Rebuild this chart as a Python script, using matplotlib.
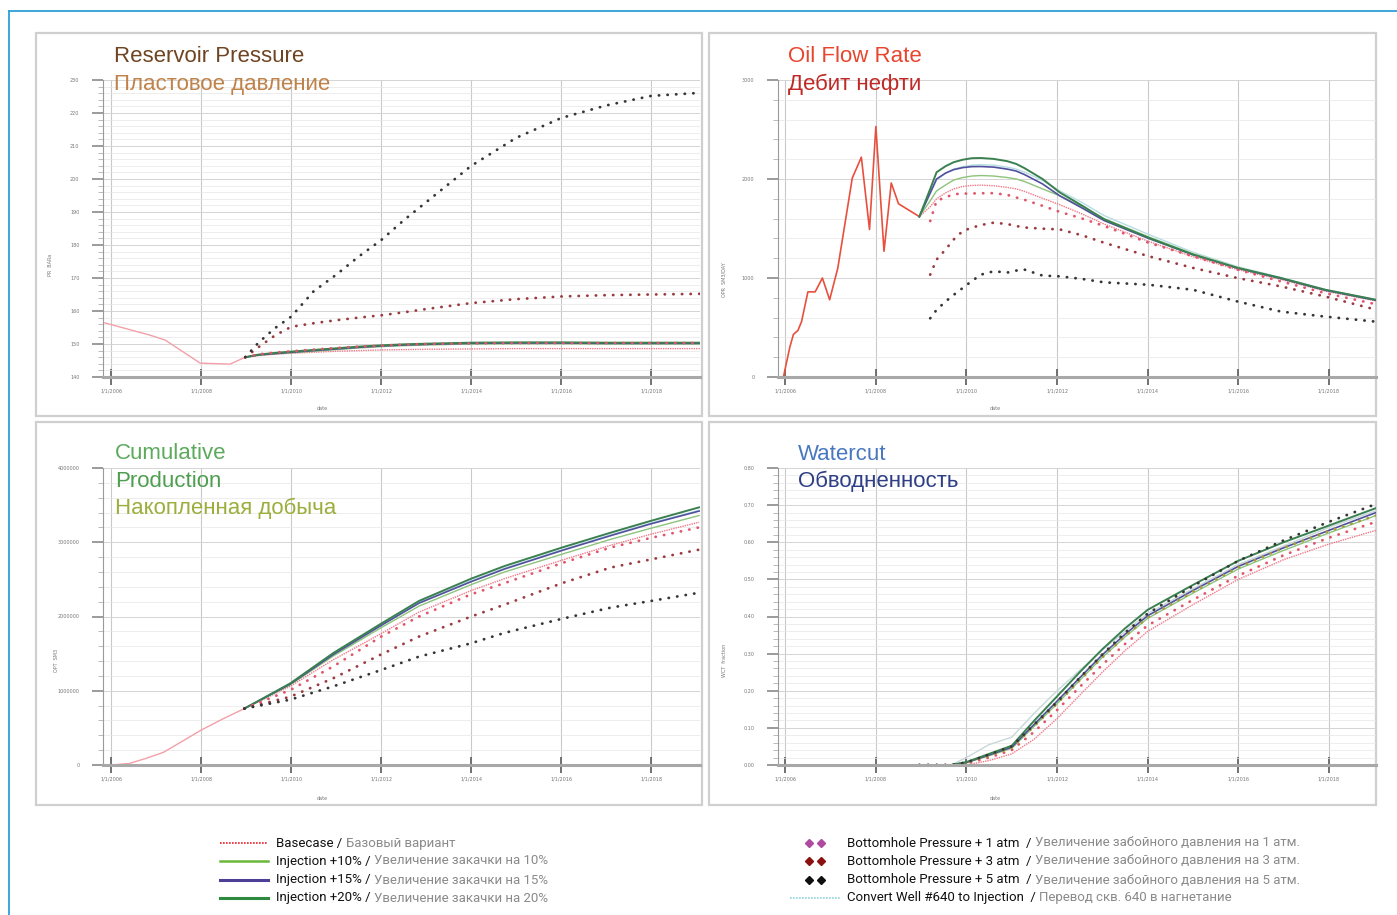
import matplotlib
matplotlib.use('Agg')
import matplotlib.pyplot as plt
from matplotlib.patches import Rectangle
from matplotlib.lines import Line2D
from matplotlib.ticker import MultipleLocator, FixedLocator

# ---------------- data ----------------
date_ticks = [0, 1, 2, 3, 4, 5, 6]
date_labels = ['1/1/2006', '1/1/2008', '1/1/2010', '1/1/2012', '1/1/2014', '1/1/2016', '1/1/2018']

# Reservoir pressure
p_hist_t = [-0.07, 0.43, 0.60, 0.99, 1.32, 1.49]
p_hist = [156.4, 152.7, 151.2, 144.2, 143.9, 146.0]
p_t = [1.49, 1.64, 1.82, 2.0, 2.25, 2.5, 2.75, 3.0, 3.25, 3.5, 4.0, 4.5, 5.0, 5.5, 6.0, 6.54]
p_base = [146.0, 146.5, 146.9, 147.2, 147.5, 147.8, 148.0, 148.2, 148.3, 148.4, 148.5, 148.6, 148.6, 148.6, 148.6, 148.6]
p_inj10 = [146.0, 146.6, 147.0, 147.3, 147.8, 148.3, 148.8, 149.2, 149.5, 149.7, 150.0, 150.1, 150.1, 150.0, 150.0, 150.0]
p_inj15 = [146.0, 146.7, 147.1, 147.5, 148.0, 148.5, 149.0, 149.4, 149.7, 149.9, 150.2, 150.3, 150.3, 150.2, 150.2, 150.2]
p_inj20 = [146.0, 146.8, 147.3, 147.7, 148.2, 148.7, 149.2, 149.6, 149.9, 150.1, 150.4, 150.5, 150.5, 150.4, 150.4, 150.4]
p_bhp1 = [146.0, 146.9, 147.4, 147.8, 148.3, 148.8, 149.2, 149.5, 149.8, 150.0, 150.2, 150.3, 150.3, 150.3, 150.3, 150.3]
p_bhp3 = [146.0, 149.1, 152.6, 155.2, 156.3, 157.2, 158.0, 158.7, 159.6, 160.6, 162.4, 163.6, 164.4, 164.8, 165.0, 165.2]
p_bhp5 = [146.0, 150.5, 154.8, 158.3, 166.0, 171.0, 176.5, 181.5, 187.5, 193.0, 204.0, 212.5, 218.5, 222.3, 225.2, 226.1]
p_conv = [146.0, 146.7, 147.2, 147.6, 148.1, 148.6, 149.0, 149.4, 149.7, 149.9, 150.1, 150.2, 150.2, 150.1, 150.1, 150.1]

# Oil flow rate
q_hist_t = [-0.02, 0.05, 0.09, 0.14, 0.18, 0.25, 0.33, 0.41, 0.49, 0.58, 0.74, 0.84, 0.93, 1.00, 1.09, 1.17, 1.25, 1.48]
q_hist = [0, 300, 430, 470, 560, 860, 860, 1000, 780, 1100, 2010, 2220, 1490, 2530, 1270, 1960, 1750, 1620]
q_t = [1.48, 1.60, 1.67, 1.77, 1.86, 1.96, 2.06, 2.16, 2.30, 2.45, 2.55, 2.64, 2.84, 3.03, 3.28, 3.52, 4.01, 4.50, 4.99, 5.47, 5.96, 6.52]
q_inj20 = [1620, 1900, 2068, 2130, 2170, 2195, 2210, 2212, 2203, 2180, 2152, 2110, 2000, 1864, 1729, 1593, 1407, 1237, 1102, 1000, 881, 780]
q_inj15 = [1620, 1860, 2000, 2060, 2095, 2115, 2125, 2126, 2120, 2100, 2080, 2045, 1950, 1830, 1705, 1580, 1400, 1235, 1100, 995, 876, 775]
q_inj10 = [1620, 1780, 1880, 1940, 1990, 2015, 2030, 2035, 2030, 2015, 2000, 1975, 1900, 1830, 1720, 1600, 1415, 1245, 1108, 1000, 880, 778]
q_base = [1620, 1720, 1800, 1860, 1900, 1925, 1935, 1938, 1932, 1915, 1900, 1875, 1805, 1740, 1645, 1545, 1370, 1215, 1085, 985, 868, 768]
q_conv = [1620, 1850, 1990, 2060, 2100, 2125, 2140, 2145, 2140, 2120, 2100, 2070, 1985, 1880, 1760, 1630, 1440, 1260, 1115, 1005, 885, 782]
q_bhp1 = [1576, 1780, 1815, 1847, 1852, 1854, 1856, 1857, 1840, 1813, 1790, 1729, 1668, 1600, 1525, 1356, 1220, 1085, 966, 847, 735]
q_bhp3 = [1034, 1186, 1288, 1390, 1475, 1508, 1535, 1559, 1545, 1525, 1510, 1498, 1491, 1430, 1356, 1220, 1102, 1000, 915, 813, 680]
q_bhp5 = [593, 678, 763, 830, 900, 970, 1034, 1068, 1055, 1075, 1085, 1024, 1017, 990, 956, 932, 881, 763, 661, 610, 559]

# Cumulative production (millions)
c_hist_t = [-0.06, 0.0, 0.2, 0.39, 0.58, 0.82, 1.0, 1.24, 1.48]
c_hist = [0.0, 0.0, 0.02, 0.09, 0.17, 0.34, 0.47, 0.62, 0.76]
c_t = [1.48, 1.99, 2.47, 3.0, 3.42, 4.0, 4.37, 5.01, 5.55, 6.0, 6.53]
c_inj20 = [0.76, 1.10, 1.51, 1.905, 2.21, 2.51, 2.68, 2.93, 3.13, 3.29, 3.47]
c_inj15 = [0.76, 1.09, 1.49, 1.88, 2.18, 2.47, 2.64, 2.89, 3.09, 3.25, 3.42]
c_inj10 = [0.76, 1.08, 1.47, 1.85, 2.14, 2.43, 2.60, 2.84, 3.04, 3.19, 3.36]
c_base = [0.76, 1.06, 1.42, 1.77, 2.06, 2.35, 2.51, 2.76, 2.96, 3.11, 3.27]
c_conv = [0.76, 1.09, 1.50, 1.89, 2.19, 2.48, 2.65, 2.90, 3.10, 3.26, 3.43]
c_bhp1 = [0.76, 1.01, 1.33, 1.73, 2.00, 2.30, 2.45, 2.72, 2.93, 3.06, 3.20]
c_bhp3 = [0.76, 0.92, 1.17, 1.49, 1.73, 2.00, 2.16, 2.45, 2.66, 2.77, 2.90]
c_bhp5 = [0.76, 0.88, 1.06, 1.28, 1.46, 1.64, 1.78, 1.97, 2.12, 2.21, 2.32]

# Watercut
w_hist_t = [-0.05, 1.48]
w_hist = [0.0, 0.0]
w_t = [1.48, 1.83, 2.0, 2.25, 2.5, 2.75, 3.0, 3.25, 3.5, 3.75, 4.0, 4.5, 5.0, 5.5, 6.0, 6.52]
w_inj20 = [0, 0, 0.008, 0.03, 0.052, 0.12, 0.185, 0.25, 0.312, 0.368, 0.418, 0.485, 0.55, 0.60, 0.645, 0.692]
w_inj15 = [0, 0, 0.007, 0.027, 0.048, 0.11, 0.172, 0.235, 0.297, 0.352, 0.402, 0.47, 0.535, 0.585, 0.632, 0.68]
w_inj10 = [0, 0, 0.006, 0.025, 0.045, 0.105, 0.165, 0.228, 0.29, 0.345, 0.395, 0.463, 0.528, 0.578, 0.625, 0.672]
w_base = [0, 0, 0.0, 0.012, 0.03, 0.07, 0.125, 0.188, 0.25, 0.308, 0.36, 0.432, 0.50, 0.553, 0.595, 0.632]
w_bhp1 = [0, 0, 0.004, 0.02, 0.04, 0.09, 0.148, 0.21, 0.27, 0.326, 0.376, 0.445, 0.51, 0.565, 0.612, 0.655]
w_bhp3 = [0, 0, 0.006, 0.025, 0.047, 0.105, 0.165, 0.228, 0.29, 0.347, 0.397, 0.467, 0.532, 0.585, 0.63, 0.672]
w_bhp5 = [0, 0, 0.007, 0.028, 0.05, 0.11, 0.17, 0.235, 0.298, 0.356, 0.408, 0.482, 0.55, 0.605, 0.655, 0.703]
w_conv = [0, 0, 0.02, 0.055, 0.075, 0.14, 0.20, 0.255, 0.31, 0.36, 0.408, 0.475, 0.54, 0.59, 0.64, 0.685]

legend_left = [
    ('Basecase / ', 'Базовый вариант'),
    ('Injection +10% / ', 'Увеличение закачки на 10%'),
    ('Injection +15% / ', 'Увеличение закачки на 15%'),
    ('Injection +20% / ', 'Увеличение закачки на 20%'),
]
legend_right = [
    ('Bottomhole Pressure + 1 atm  / ', 'Увеличение забойного давления на 1 атм.'),
    ('Bottomhole Pressure + 3 atm  / ', 'Увеличение забойного давления на 3 атм.'),
    ('Bottomhole Pressure + 5 atm  / ', 'Увеличение забойного давления на 5 атм.'),
    ('Convert Well #640 to Injection  / ', 'Перевод скв. 640 в нагнетание'),
]

# ---------------- styles ----------------
C_INJ10 = '#8cc47a'
C_INJ15 = '#50509e'
C_INJ20 = '#3a8050'
C_BASE = '#f07a8a'
C_CONV = '#b5dde2'
C_BHP1 = '#e0566a'
C_BHP3 = '#9b3a40'
C_BHP5 = '#353535'
DOT = dict(lw=2.0, ls=(0, (0.1, 3.0)), dash_capstyle='round')

W, H = 1397, 915
fig = plt.figure(figsize=(W / 100, H / 100), dpi=100)
fig.patch.set_facecolor('white')


def fx(x):
    return x / W


def fy(y):
    return 1 - y / H


fig.add_artist(Line2D([fx(8.5), fx(1397)], [fy(10.5), fy(10.5)], color='#2e9fd6', lw=1.3))
fig.add_artist(Line2D([fx(8.5), fx(8.5)], [fy(10.5), fy(915)], color='#2e9fd6', lw=1.3))

panels = [(36, 33, 702, 416), (709, 33, 1376, 416), (36, 422, 702, 805), (709, 422, 1376, 805)]
for (x0, y0, x1, y1) in panels:
    fig.add_artist(Rectangle((fx(x0), fy(y1)), (x1 - x0) / W, (y1 - y0) / H,
                             transform=fig.transFigure, facecolor='white',
                             edgecolor='#cfcfcf', lw=1.6, zorder=0))


def make_ax(x0, y0, x1, y1):
    return fig.add_axes([fx(x0), fy(y1), (x1 - x0) / W, (y1 - y0) / H])


def style(ax, xlim, ylim, yticks, ylabels, ystep):
    ax.set_xlim(xlim)
    ax.set_ylim(ylim)
    ax.set_facecolor('none')
    for s in ['top', 'right']:
        ax.spines[s].set_visible(False)
    ax.spines['left'].set_color('#9a9a9a')
    ax.spines['left'].set_linewidth(0.8)
    ax.spines['bottom'].set_color('#a8a8a8')
    ax.spines['bottom'].set_linewidth(2.2)
    ax.xaxis.set_major_locator(FixedLocator(date_ticks))
    ax.set_xticklabels(date_labels)
    ax.yaxis.set_major_locator(FixedLocator(yticks))
    ax.set_yticklabels(ylabels)
    ax.yaxis.set_minor_locator(MultipleLocator(ystep))
    ax.tick_params(axis='y', which='major', direction='out', length=8, width=1.2,
                   color='#8a8a8a', labelsize=3.5, labelcolor='#777777', pad=9)
    ax.tick_params(axis='y', which='minor', direction='out', length=3.5, width=0.6, color='#b0b0b0')
    ax.tick_params(axis='x', which='major', direction='inout', length=11, width=1.3,
                   color='#666666', labelsize=3.5, labelcolor='#777777', pad=3)
    ax.grid(True, axis='x', which='major', color='#c9c9c9', lw=0.8)
    ax.grid(True, axis='y', which='major', color='#d4d4d4', lw=0.7)
    ax.grid(True, axis='y', which='minor', color='#e6e6e6', lw=0.5)
    ax.set_axisbelow(True)


# ---- Reservoir pressure ----
ax1 = make_ax(103, 80, 700, 377)
style(ax1, (-0.09, 6.54), (140, 230), list(range(140, 231, 10)),
      [str(v) for v in range(140, 231, 10)], 2)
ax1.plot(p_hist_t, p_hist, color='#f2a0a8', lw=1.0)
ax1.plot(p_t, p_base, color=C_BASE, lw=1.0, ls=(0, (1, 0.7)))
ax1.plot(p_t, p_conv, color=C_CONV, lw=1.0)
ax1.plot(p_t, p_inj10, color=C_INJ10, lw=1.0)
ax1.plot(p_t, p_inj15, color=C_INJ15, lw=1.2)
ax1.plot(p_t, p_inj20, color=C_INJ20, lw=1.4)
ax1.plot(p_t, p_bhp1, color=C_BHP1, **DOT)
ax1.plot(p_t, p_bhp3, color=C_BHP3, **DOT)
ax1.plot(p_t, p_bhp5, color=C_BHP5, **DOT)

# ---- Oil flow rate ----
ax2 = make_ax(778, 80, 1376, 377)
style(ax2, (-0.08, 6.52), (0, 3000), [0, 1000, 2000, 3000], ['0', '1000', '2000', '3000'], 200)
ax2.plot(q_hist_t, q_hist, color='#e8503e', lw=1.2)
ax2.plot(q_t, q_base, color=C_BASE, lw=1.0, ls=(0, (1, 0.7)))
ax2.plot(q_t, q_conv, color=C_CONV, lw=1.0)
ax2.plot(q_t, q_inj10, color=C_INJ10, lw=1.0)
ax2.plot(q_t, q_inj15, color=C_INJ15, lw=1.2)
ax2.plot(q_t, q_inj20, color=C_INJ20, lw=1.4)
ax2.plot(q_t[1:], q_bhp1, color=C_BHP1, **DOT)
ax2.plot(q_t[1:], q_bhp3, color=C_BHP3, **DOT)
ax2.plot(q_t[1:], q_bhp5, color=C_BHP5, **DOT)

# ---- Cumulative production ----
ax3 = make_ax(103, 468, 700, 765)
style(ax3, (-0.09, 6.54), (0, 4), [0, 1, 2, 3, 4],
      ['0', '1000000', '2000000', '3000000', '4000000'], 0.2)
ax3.plot(c_hist_t, c_hist, color='#f2a0a8', lw=1.0)
ax3.plot(c_t, c_base, color=C_BASE, lw=1.0, ls=(0, (1, 0.7)))
ax3.plot(c_t, c_conv, color=C_CONV, lw=1.0)
ax3.plot(c_t, c_inj10, color=C_INJ10, lw=1.0)
ax3.plot(c_t, c_inj15, color=C_INJ15, lw=1.2)
ax3.plot(c_t, c_inj20, color=C_INJ20, lw=1.4)
ax3.plot(c_t, c_bhp1, color=C_BHP1, **DOT)
ax3.plot(c_t, c_bhp3, color=C_BHP3, **DOT)
ax3.plot(c_t, c_bhp5, color=C_BHP5, **DOT)

# ---- Watercut ----
ax4 = make_ax(778, 468, 1376, 765)
wt = [i / 10 for i in range(9)]
style(ax4, (-0.08, 6.52), (0, 0.8), wt, ['%.2f' % v for v in wt], 0.02)
ax4.plot(w_hist_t, w_hist, color='#f08a8a', lw=1.0)
ax4.plot(w_t, w_base, color=C_BASE, lw=1.0, ls=(0, (1, 0.7)))
ax4.plot(w_t, w_conv, color='#c8d8d8', lw=1.0)
ax4.plot(w_t, w_inj10, color=C_INJ10, lw=1.0)
ax4.plot(w_t, w_inj15, color=C_INJ15, lw=1.2)
ax4.plot(w_t, w_inj20, color=C_INJ20, lw=1.4)
ax4.plot(w_t, w_bhp1, color=C_BHP1, **DOT)
ax4.plot(w_t, w_bhp3, color='#a89a40', **DOT)
ax4.plot(w_t, w_bhp5, color=C_BHP5, **DOT)

# axis labels (tiny)
for (x, y, s) in [(322, 409, 'date'), (995, 409, 'date'), (322, 798, 'date'), (995, 798, 'date')]:
    fig.text(fx(x), fy(y), s, fontsize=3.5, color='#777777', ha='center', va='center')
for (x, y, s) in [(50, 265, 'PR  BARa'), (724, 280, 'OPR  SM3/DAY'), (57, 660, 'OPT  SM3'), (724, 660, 'WCT  fraction')]:
    fig.text(fx(x), fy(y), s, fontsize=3.5, color='#777777', ha='center', va='center', rotation=90)

# panel titles
TF = dict(fontsize=16, family=['Liberation Sans', 'DejaVu Sans'], va='baseline', ha='left')
fig.text(fx(114), fy(62), 'Reservoir Pressure', color='#6e4422', **TF)
fig.text(fx(114), fy(90), 'Пластовое давление', color='#bf8248', **TF)
fig.text(fx(788), fy(62), 'Oil Flow Rate', color='#e8452e', **TF)
fig.text(fx(788), fy(90), 'Дебит нефти', color='#c02a26', **TF)
fig.text(fx(115), fy(459), 'Cumulative', color='#5caa5c', **TF)
fig.text(fx(115), fy(487), 'Production', color='#4e9e50', **TF)
fig.text(fx(115), fy(514), 'Накопленная добыча', color='#9cae3c', **TF)
fig.text(fx(798), fy(460), 'Watercut', color='#4a78c0', **TF)
fig.text(fx(798), fy(487), 'Обводненность', color='#2e3f86', **TF)

# ---- legend ----
LF = dict(fontsize=9.5, family=['Liberation Sans Narrow', 'Roboto', 'DejaVu Sans'], va='center', ha='left')
rows = [843, 861, 880, 898]
left_styles = [dict(color='#e8202a', lw=1.2, ls=(0, (1, 0.8))),
               dict(color='#6ab83a', lw=1.8),
               dict(color='#4c3f96', lw=2.2),
               dict(color='#2e8a3e', lw=2.2)]
for y, st in zip(rows, left_styles):
    fig.add_artist(Line2D([fx(220), fx(268)], [fy(y), fy(y)], **st))
marker_cols = ['#b04aa0', '#8b1010', '#101010']
for y, c in zip(rows[:3], marker_cols):
    fig.add_artist(Line2D([fx(809), fx(821)], [fy(y), fy(y)], ls='none', marker='D',
                          markersize=3.6, color=c))
fig.add_artist(Line2D([fx(790), fx(840)], [fy(rows[3]), fy(rows[3])], color='#8fd3dc',
                      lw=1.2, ls=(0, (1, 0.8))))

renderer = fig.canvas.get_renderer()


def two_part(x, y, a, b):
    t = fig.text(fx(x), fy(y), a, color='#111111', **LF)
    ext = t.get_window_extent(renderer)
    fig.text(ext.x1 / W, fy(y), b, color='#8a8a8a', **LF)


for y, (a, b) in zip(rows, legend_left):
    two_part(276, y, a, b)
for y, (a, b) in zip(rows, legend_right):
    two_part(847, y, a, b)

fig.savefig('out.png', dpi=100, facecolor='white')
